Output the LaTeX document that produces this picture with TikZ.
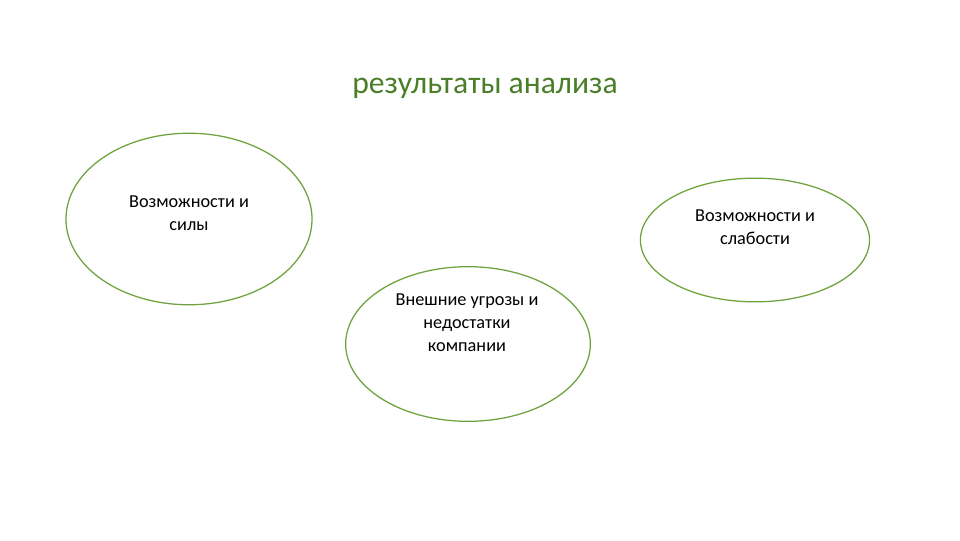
\documentclass[tikz,border=0pt]{standalone}
\usepackage{fontspec}
\setmainfont{Carlito}
\usetikzlibrary{shapes.geometric}
\definecolor{titlegreen}{RGB}{74,126,40}
\definecolor{ovalgreen}{RGB}{112,162,62}
\begin{document}
\begin{tikzpicture}[x=0.25mm,y=-0.25mm,line join=round,line cap=round,
	oval/.style={draw=ovalgreen,line width=0.9pt,ellipse,inner sep=0pt},
	lbl/.style={align=center,font=\fontsize{13}{16.5}\selectfont,text=black}]
				\useasboundingbox[fill=white] (0,0) rectangle (960,540);
				\node[text=titlegreen,font=\fontsize{22.5}{24}\selectfont] (title) at (485,88) {результаты анализа};
				\node[oval,minimum width=175,minimum height=122] (strong) at (189,219) {};
				\node[lbl] (strongtxt) at (189,213) {Возможности и\\силы};
				\node[oval,minimum width=163,minimum height=88] (weak) at (755,240) {};
				\node[lbl] (weaktxt) at (755,227) {Возможности и\\слабости};
				\node[oval,minimum width=174,minimum height=110] (threat) at (468,344) {};
				\node[lbl] (threattxt) at (467,323) {Внешние угрозы и\\недостатки\\компании};
			\end{tikzpicture}
\end{document}
